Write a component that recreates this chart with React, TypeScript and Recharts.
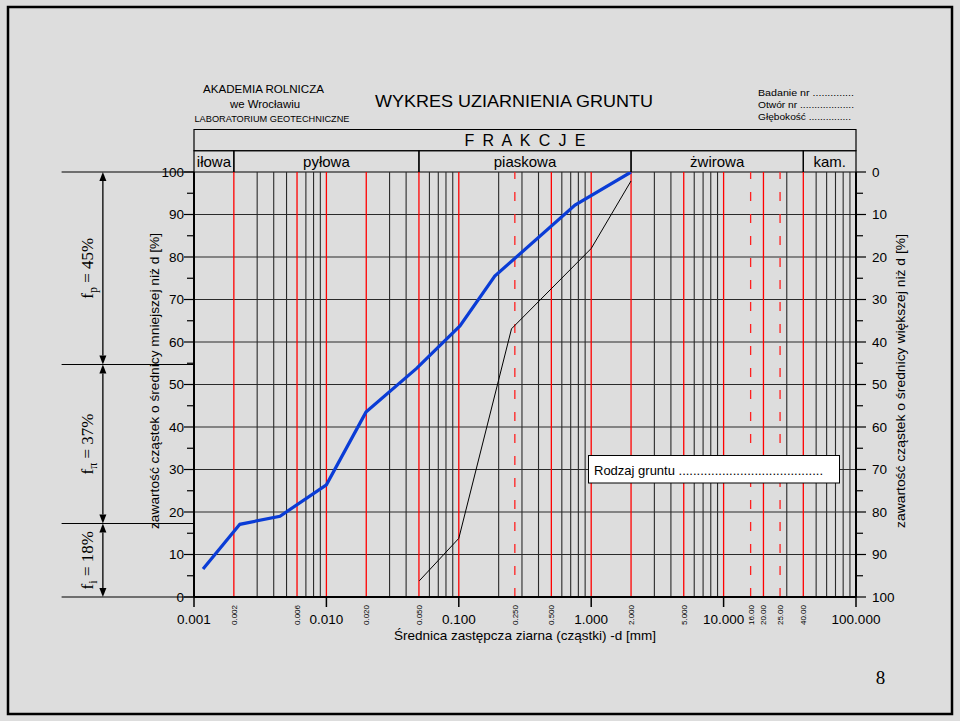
import React from 'react';
import { ComposedChart, Line, XAxis, YAxis, ReferenceLine, ReferenceArea } from 'recharts';

const FONT = '"Liberation Sans", Arial, Helvetica, sans-serif';
const SERIF = '"Liberation Serif", "Times New Roman", serif';

// grain-size curves: d [mm] -> percent finer
const blueCurve = [
  { d: 0.00117, p: 6.6 },
  { d: 0.00222, p: 17.1 },
  { d: 0.00446, p: 19.0 },
  { d: 0.0100, p: 26.4 },
  { d: 0.0199, p: 43.5 },
  { d: 0.048, p: 53.8 },
  { d: 0.102, p: 63.8 },
  { d: 0.187, p: 75.5 },
  { d: 0.755, p: 92.2 },
  { d: 2.0, p: 100 },
];
const blackCurve = [
  { d: 0.0503, p: 3.8 },
  { d: 0.1, p: 13.8 },
  { d: 0.25, p: 63.1 },
  { d: 1.0, p: 82.0 },
  { d: 2.0, p: 97.9 },
];

// axis ticks
const xMajorTicks = [0.001, 0.01, 0.1, 1, 10, 100];
const xMajorLabels = ['0.001', '0.010', '0.100', '1.000', '10.000', '100.000'];
const xMinorTicks = [0.002, 0.006, 0.02, 0.05, 0.265, 0.5, 2, 5, 16, 20, 26.7, 40];
const xMinorLabels = ['0.002', '0.006', '0.020', '0.050', '0.250', '0.500', '2.000', '5.000', '16.00', '20.00', '25.00', '40.00'];
const yTicks = [0, 5, 10, 15, 20, 25, 30, 35, 40, 45, 50, 55, 60, 65, 70, 75, 80, 85, 90, 95, 100];
const yGrid = [10, 20, 30, 40, 50, 60, 70, 80, 90];

// vertical lines
const gridBlack = [
  0.003, 0.004, 0.005, 0.007, 0.008, 0.009,
  0.03, 0.04, 0.06, 0.07, 0.08, 0.09,
  0.2, 0.3, 0.4, 0.6, 0.7, 0.8, 0.9,
  3, 4, 6, 7, 8, 9,
  30, 50, 60, 70, 80, 90,
];
const gridRed = [0.002, 0.006, 0.01, 0.02, 0.05, 0.1, 0.5, 1, 2, 5, 10, 20, 40];
const gridRedDashed = [0.265, 16, 26.7];

// fractions header
const fractionNames = ['iłowa', 'pyłowa', 'piaskowa', 'żwirowa', 'kam.'];
const fractionEdges = [0.001, 0.002, 0.05, 2, 40, 100];

// fraction annotation on left
const fractionBounds = [100, 54.7, 17.3, 0];
const fractionSubs = ['p', 'π', 'i'];
const fractionPct = ['45%', '37%', '18%'];
const ANNOT_LINE_X = 0.0001;
const ANNOT_ARROW_X = 0.000205;

const XTick = (props: any) => {
  const { x, y, payload } = props;
  const v = payload.value;
  const iMaj = xMajorTicks.indexOf(v);
  if (iMaj >= 0) {
    return (
      <g>
        <line x1={x} x2={x} y1={y} y2={y + 10} stroke="#000" strokeWidth={1.5} />
        <text x={x} y={y + 27} textAnchor="middle" fontSize={13.5} fontFamily={FONT} fill="#000">
          {xMajorLabels[iMaj]}
        </text>
      </g>
    );
  }
  const iMin = xMinorTicks.indexOf(v);
  if (iMin >= 0) {
    const tx = x + 3;
    const ty = y + 8;
    return (
      <text transform={`rotate(-90 ${tx} ${ty})`} x={tx} y={ty} textAnchor="end" fontSize={8} fontFamily={FONT} fill="#000">
        {xMinorLabels[iMin]}
      </text>
    );
  }
  return <g />;
};

const YTickLeft = (props: any) => {
  const { x, y, payload } = props;
  const v = payload.value;
  const major = v % 10 === 0;
  return (
    <g>
      <line x1={x - (major ? 10 : 7)} x2={x} y1={y} y2={y} stroke="#000" strokeWidth={1.2} />
      {major && (
        <text x={x - 10} y={y} dy={4.7} textAnchor="end" fontSize={13.5} fontFamily={FONT} fill="#000">{v}</text>
      )}
    </g>
  );
};

const YTickRight = (props: any) => {
  const { x, y, payload } = props;
  const v = payload.value;
  const major = v % 10 === 0;
  return (
    <g>
      <line x1={x} x2={x + (major ? 10 : 7)} y1={y} y2={y} stroke="#000" strokeWidth={1.2} />
      {major && (
        <text x={x + 16} y={y} dy={4.7} textAnchor="start" fontSize={13.5} fontFamily={FONT} fill="#000">{v}</text>
      )}
    </g>
  );
};

const makeArrow = (sub: string, pct: string) => (props: any) => {
  const { x1, y1, y2 } = props;
  const top = Math.min(y1, y2);
  const bot = Math.max(y1, y2);
  const x = x1;
  const mid = (top + bot) / 2;
  const ah = 9;
  const aw = 3.5;
  const tx = x - 10;
  return (
    <g>
      <line x1={x} x2={x} y1={top + ah} y2={bot - ah} stroke="#000" strokeWidth={1.3} />
      <polygon points={`${x},${top} ${x - aw},${top + ah} ${x + aw},${top + ah}`} fill="#000" />
      <polygon points={`${x},${bot} ${x - aw},${bot - ah} ${x + aw},${bot - ah}`} fill="#000" />
      <text transform={`rotate(-90 ${tx} ${mid})`} x={tx} y={mid} textAnchor="middle" fontFamily={SERIF} fontSize={17} fill="#000">
        f<tspan dy={4} fontSize={12}>{sub}</tspan>
        <tspan dy={-4}> = {pct}</tspan>
      </text>
    </g>
  );
};

export default function App() {
  const dots = '.'.repeat(40);
  return (
    <div style={{ position: 'absolute', left: 0, top: 0, width: 960, height: 721, background: '#DDDDDD' }}>
      <div style={{ position: 'absolute', left: 0, top: 0 }}>
        <ComposedChart width={960} height={721} margin={{ top: 172, right: 44, bottom: 94, left: 134 }}>
          <XAxis
            dataKey="d"
            type="number"
            scale="log"
            domain={[0.001, 100]}
            allowDataOverflow
            ticks={[...xMajorTicks, ...xMinorTicks]}
            interval={0}
            tick={XTick}
            tickLine={false}
            tickSize={0}
            tickMargin={0}
            height={30}
            axisLine={{ stroke: '#000', strokeWidth: 2 }}
          />
          <YAxis
            yAxisId="left"
            type="number"
            domain={[0, 100]}
            allowDataOverflow
            ticks={yTicks}
            interval={0}
            tick={YTickLeft}
            tickLine={false}
            tickSize={0}
            tickMargin={0}
            width={60}
            axisLine={{ stroke: '#000', strokeWidth: 2 }}
          />
          <YAxis
            yAxisId="right"
            orientation="right"
            type="number"
            domain={[0, 100]}
            reversed
            allowDataOverflow
            ticks={yTicks}
            interval={0}
            tick={YTickRight}
            tickLine={false}
            tickSize={0}
            tickMargin={0}
            width={60}
            axisLine={{ stroke: '#000', strokeWidth: 2 }}
          />

          {gridBlack.map((v) => (
            <ReferenceLine key={`gb${v}`} x={v} yAxisId="left" stroke="#2a2a2a" strokeWidth={1.1} ifOverflow="visible" />
          ))}
          {yGrid.map((v) => (
            <ReferenceLine key={`gy${v}`} y={v} yAxisId="left" stroke="#2a2a2a" strokeWidth={1.1} ifOverflow="visible" />
          ))}
          {gridRed.map((v) => (
            <ReferenceLine key={`gr${v}`} x={v} yAxisId="left" stroke="#ff0000" strokeWidth={1.3} ifOverflow="visible" />
          ))}
          {gridRedDashed.map((v) => (
            <ReferenceLine key={`gd${v}`} x={v} yAxisId="left" stroke="#ff2020" strokeWidth={1.3} strokeDasharray="9 13" ifOverflow="visible" />
          ))}

          <ReferenceArea
            x1={0.001}
            x2={100}
            y1={105}
            y2={110}
            yAxisId="left"
            ifOverflow="visible"
            fill="none"
            fillOpacity={0}
            stroke="#000"
            strokeWidth={1.2}
          />
          {fractionNames.map((name, i) => (
            <ReferenceArea
              key={`fa${name}`}
              x1={fractionEdges[i]}
              x2={fractionEdges[i + 1]}
              y1={100}
              y2={105}
              yAxisId="left"
              ifOverflow="visible"
              fill="none"
              fillOpacity={0}
              stroke="#000"
              strokeWidth={1.2}
              label={{ value: name, position: 'center', fill: '#000', fontSize: 15, fontFamily: FONT }}
            />
          ))}

          {fractionBounds.map((b) => (
            <ReferenceLine
              key={`fb${b}`}
              yAxisId="left"
              segment={[{ x: ANNOT_LINE_X, y: b }, { x: 0.001, y: b }]}
              stroke="#000"
              strokeWidth={1.1}
              ifOverflow="visible"
            />
          ))}
          {fractionSubs.map((s, i) => (
            <ReferenceLine
              key={`fr${s}`}
              yAxisId="left"
              segment={[{ x: ANNOT_ARROW_X, y: fractionBounds[i] }, { x: ANNOT_ARROW_X, y: fractionBounds[i + 1] }]}
              stroke="#000"
              ifOverflow="visible"
              shape={makeArrow(s, fractionPct[i])}
            />
          ))}

          <Line
            yAxisId="left"
            data={blackCurve}
            dataKey="p"
            type="linear"
            stroke="#000"
            strokeWidth={1}
            dot={false}
            isAnimationActive={false}
          />
          <Line
            yAxisId="left"
            data={blueCurve}
            dataKey="p"
            type="linear"
            stroke="#0a3cd6"
            strokeWidth={3.2}
            dot={false}
            isAnimationActive={false}
          />
        </ComposedChart>
      </div>
      <svg width={960} height={721} style={{ position: 'absolute', left: 0, top: 0, pointerEvents: 'none' }}>
        <rect x={8} y={7} width={944} height={707} fill="none" stroke="#000" strokeWidth={2.5} />
        <g fontFamily={FONT} fill="#000">
          <text x={263.5} y={93} textAnchor="middle" fontSize={11.5} textLength={121} lengthAdjust="spacingAndGlyphs">AKADEMIA ROLNICZA</text>
          <text x={265} y={107.5} textAnchor="middle" fontSize={11.5} textLength={70} lengthAdjust="spacingAndGlyphs">we Wrocławiu</text>
          <text x={272} y={122} textAnchor="middle" fontSize={8.5} textLength={155} lengthAdjust="spacingAndGlyphs">LABORATORIUM GEOTECHNICZNE</text>
          <text x={514} y={107} textAnchor="middle" fontSize={16.5} textLength={278} lengthAdjust="spacingAndGlyphs">WYKRES UZIARNIENIA GRUNTU</text>
          <text x={758} y={96} fontSize={9.5} textLength={96} lengthAdjust="spacingAndGlyphs">Badanie nr ..............</text>
          <text x={758} y={108} fontSize={9.5} textLength={96} lengthAdjust="spacingAndGlyphs">Otwór nr ...................</text>
          <text x={758} y={120} fontSize={9.5} textLength={93} lengthAdjust="spacingAndGlyphs">Głębokość ...............</text>
          <text x={525} y={145.5} textAnchor="middle" fontSize={16} textLength={121} lengthAdjust="spacing">F R A K C J E</text>
          <text x={525} y={640} textAnchor="middle" fontSize={13} textLength={262} lengthAdjust="spacingAndGlyphs">Średnica zastępcza ziarna (cząstki) -d [mm]</text>
          <text transform="rotate(-90 159 381)" x={159} y={381} textAnchor="middle" fontSize={12.5} textLength={296} lengthAdjust="spacingAndGlyphs">zawartość cząstek o średnicy mniejszej niż d [%]</text>
          <text transform="rotate(-90 905 381)" x={905} y={381} textAnchor="middle" fontSize={12.5} textLength={294} lengthAdjust="spacingAndGlyphs">zawartość cząstek o średnicy większej niż d [%]</text>
          <rect x={588.5} y={455.5} width={251} height={27.5} fill="#fff" stroke="#000" strokeWidth={1} />
          <text x={594} y={475} fontSize={13} textLength={229} lengthAdjust="spacingAndGlyphs">{`Rodzaj gruntu ${dots}`}</text>
        </g>
        <text x={880.5} y={684} textAnchor="middle" fontSize={19} fontFamily={SERIF} fill="#000">8</text>
      </svg>
    </div>
  );
}
